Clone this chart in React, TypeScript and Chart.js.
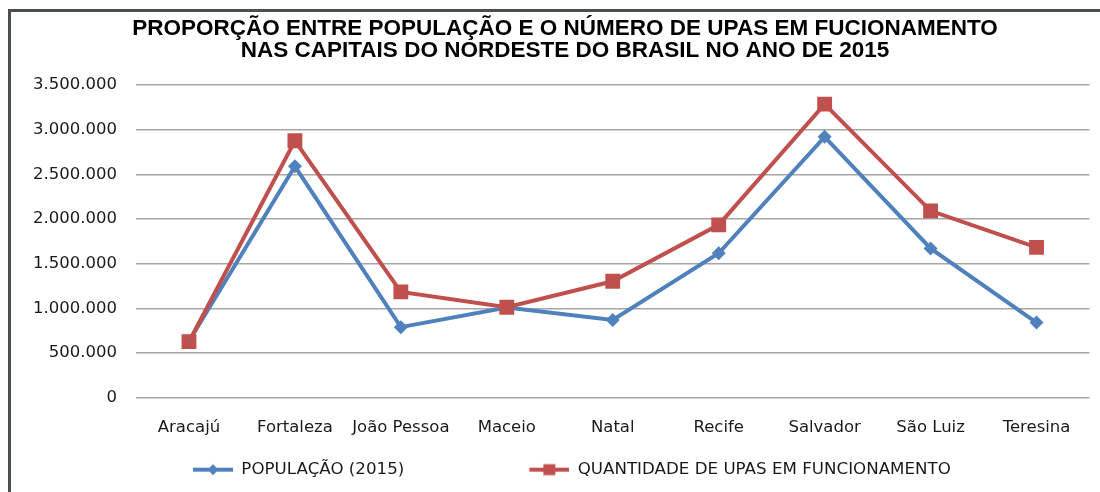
import React, { useEffect, useRef } from 'react';
import { Chart, registerables } from 'chart.js';

Chart.register(...registerables);

// ---- data ----
const TITLE_LINES = [
  'PROPORÇÃO ENTRE POPULAÇÃO E O NÚMERO DE UPAS EM FUCIONAMENTO',
  'NAS CAPITAIS DO NORDESTE DO BRASIL NO ANO DE 2015',
];
const CATEGORIES = ['Aracajú', 'Fortaleza', 'João Pessoa', 'Maceio', 'Natal', 'Recife', 'Salvador', 'São Luiz', 'Teresina'];
const SERIES_LABELS = ['POPULAÇÃO (2015)', 'QUANTIDADE DE UPAS EM FUNCIONAMENTO'];
const POPULACAO = [632000, 2591000, 791000, 1010000, 872000, 1618000, 2921000, 1672000, 842000];
const UPAS = [628000, 2877000, 1185000, 1013000, 1304000, 1936000, 3287000, 2093000, 1683000];
const Y_MIN = 0;
const Y_MAX = 3500000;
const Y_STEP = 500000;

// ---- styles ----
const BLUE = '#4F81BD';
const RED = '#C0504D';
const TEXT = '#1a1a1a';
const FONT = "'DejaVu Sans', 'Noto Sans', sans-serif";
const LEGEND_BOX = 155;

function fmt(v: number): string {
  return String(Math.round(v)).replace(/\B(?=(\d{3})+(?!\d))/g, '.');
}

function makeLegendIcon(color: string, shape: 'diamond' | 'square'): HTMLCanvasElement {
  const W = LEGEND_BOX;
  const H = 18;
  const c = document.createElement('canvas');
  c.width = W;
  c.height = H;
  const ctx = c.getContext('2d')!;
  const cy = H / 2;
  ctx.strokeStyle = color;
  ctx.lineWidth = 4;
  ctx.beginPath();
  ctx.moveTo(W - 40, cy);
  ctx.lineTo(W, cy);
  ctx.stroke();
  ctx.fillStyle = color;
  const cx = W - 20;
  if (shape === 'diamond') {
    ctx.beginPath();
    ctx.moveTo(cx, cy - 5.5);
    ctx.lineTo(cx + 5.5, cy);
    ctx.lineTo(cx, cy + 5.5);
    ctx.lineTo(cx - 5.5, cy);
    ctx.closePath();
    ctx.fill();
  } else {
    ctx.fillRect(cx - 6, cy - 5.5, 12, 11);
  }
  return c;
}

const placement = {
  id: 'placement',
  afterLayout(chart: any) {
    const lg = chart.legend;
    if (lg) {
      const w = lg.right - lg.left;
      lg.left = 68;
      lg.right = 68 + w;
    }
    const tb = chart.titleBlock;
    if (tb) {
      tb.left = 36;
    }
  },
  beforeDraw(chart: any) {
    const ctx = chart.ctx;
    ctx.save();
    ctx.fillStyle = '#ffffff';
    ctx.fillRect(0, 0, chart.width, chart.height);
    ctx.strokeStyle = '#4a4f57';
    ctx.lineWidth = 3;
    ctx.beginPath();
    ctx.moveTo(9.5, chart.height);
    ctx.lineTo(9.5, 10.5);
    ctx.lineTo(chart.width, 10.5);
    ctx.stroke();
    ctx.restore();
  },
};

export default function App() {
  const ref = useRef<HTMLCanvasElement>(null);

  useEffect(() => {
    const canvas = ref.current!;
    const icons = [makeLegendIcon(BLUE, 'diamond'), makeLegendIcon(RED, 'square')];

    const chart = new Chart(canvas, {
      type: 'line',
      data: {
        labels: CATEGORIES,
        datasets: [
          {
            label: SERIES_LABELS[0],
            data: POPULACAO,
            borderColor: BLUE,
            backgroundColor: BLUE,
            pointBackgroundColor: BLUE,
            borderWidth: 4,
            pointStyle: 'rectRot',
            pointRadius: 7,
            pointBorderWidth: 0,
            tension: 0,
            order: 1,
          },
          {
            label: SERIES_LABELS[1],
            data: UPAS,
            borderColor: RED,
            backgroundColor: RED,
            pointBackgroundColor: RED,
            borderWidth: 4,
            pointStyle: 'rect',
            pointRadius: 10.5,
            pointBorderWidth: 0,
            tension: 0,
            order: 0,
          },
        ],
      },
      options: {
        responsive: false,
        animation: false,
        devicePixelRatio: 1,
        layout: { padding: { left: 0, right: 6, top: 0, bottom: 4 } },
        plugins: {
          title: {
            display: true,
            text: TITLE_LINES,
            color: '#000',
            font: { family: "'Liberation Sans', Arial, sans-serif", size: 22.5, weight: 'bold', lineHeight: 0.98 },
            padding: { top: 18, bottom: 23 },
          },
          legend: {
            display: true,
            position: 'bottom',
            align: 'start',
            labels: {
              usePointStyle: true,
              pointStyleWidth: LEGEND_BOX,
              boxHeight: 16,
              padding: 10,
              color: TEXT,
              font: { family: FONT, size: 16.7 },
              sort: (a: any, b: any) => a.datasetIndex - b.datasetIndex,
              generateLabels: (ch: any) => {
                const items = Chart.defaults.plugins.legend.labels.generateLabels(ch);
                return items.map((it: any) => ({ ...it, pointStyle: icons[it.datasetIndex] }));
              },
            },
          },
          tooltip: { enabled: false },
        },
        scales: {
          x: {
            offset: true,
            grid: { display: false, drawTicks: false },
            border: { display: false },
            ticks: {
              color: TEXT,
              font: { family: FONT, size: 16.5 },
              padding: 20,
              autoSkip: false,
              maxRotation: 0,
            },
            afterFit: (s: any) => {
              s.height = 53.5;
            },
          },
          y: {
            min: Y_MIN,
            max: Y_MAX,
            grid: { color: '#a6a6a6', lineWidth: 1.5, drawTicks: false },
            border: { display: false },
            ticks: {
              stepSize: Y_STEP,
              color: TEXT,
              font: { family: FONT, size: 16.5 },
              padding: 19,
              callback: (v: any) => fmt(Number(v)),
            },
            afterFit: (s: any) => {
              s.width = 136;
            },
          },
        },
      },
      plugins: [placement],
    });

    return () => chart.destroy();
  }, []);

  return (
    <div style={{ position: 'absolute', left: 0, top: 0, width: 1100, height: 492, overflow: 'hidden', background: '#fff' }}>
      <canvas ref={ref} width={1100} height={492} style={{ position: 'absolute', left: 0, top: 0, width: 1100, height: 492 }} />
    </div>
  );
}
